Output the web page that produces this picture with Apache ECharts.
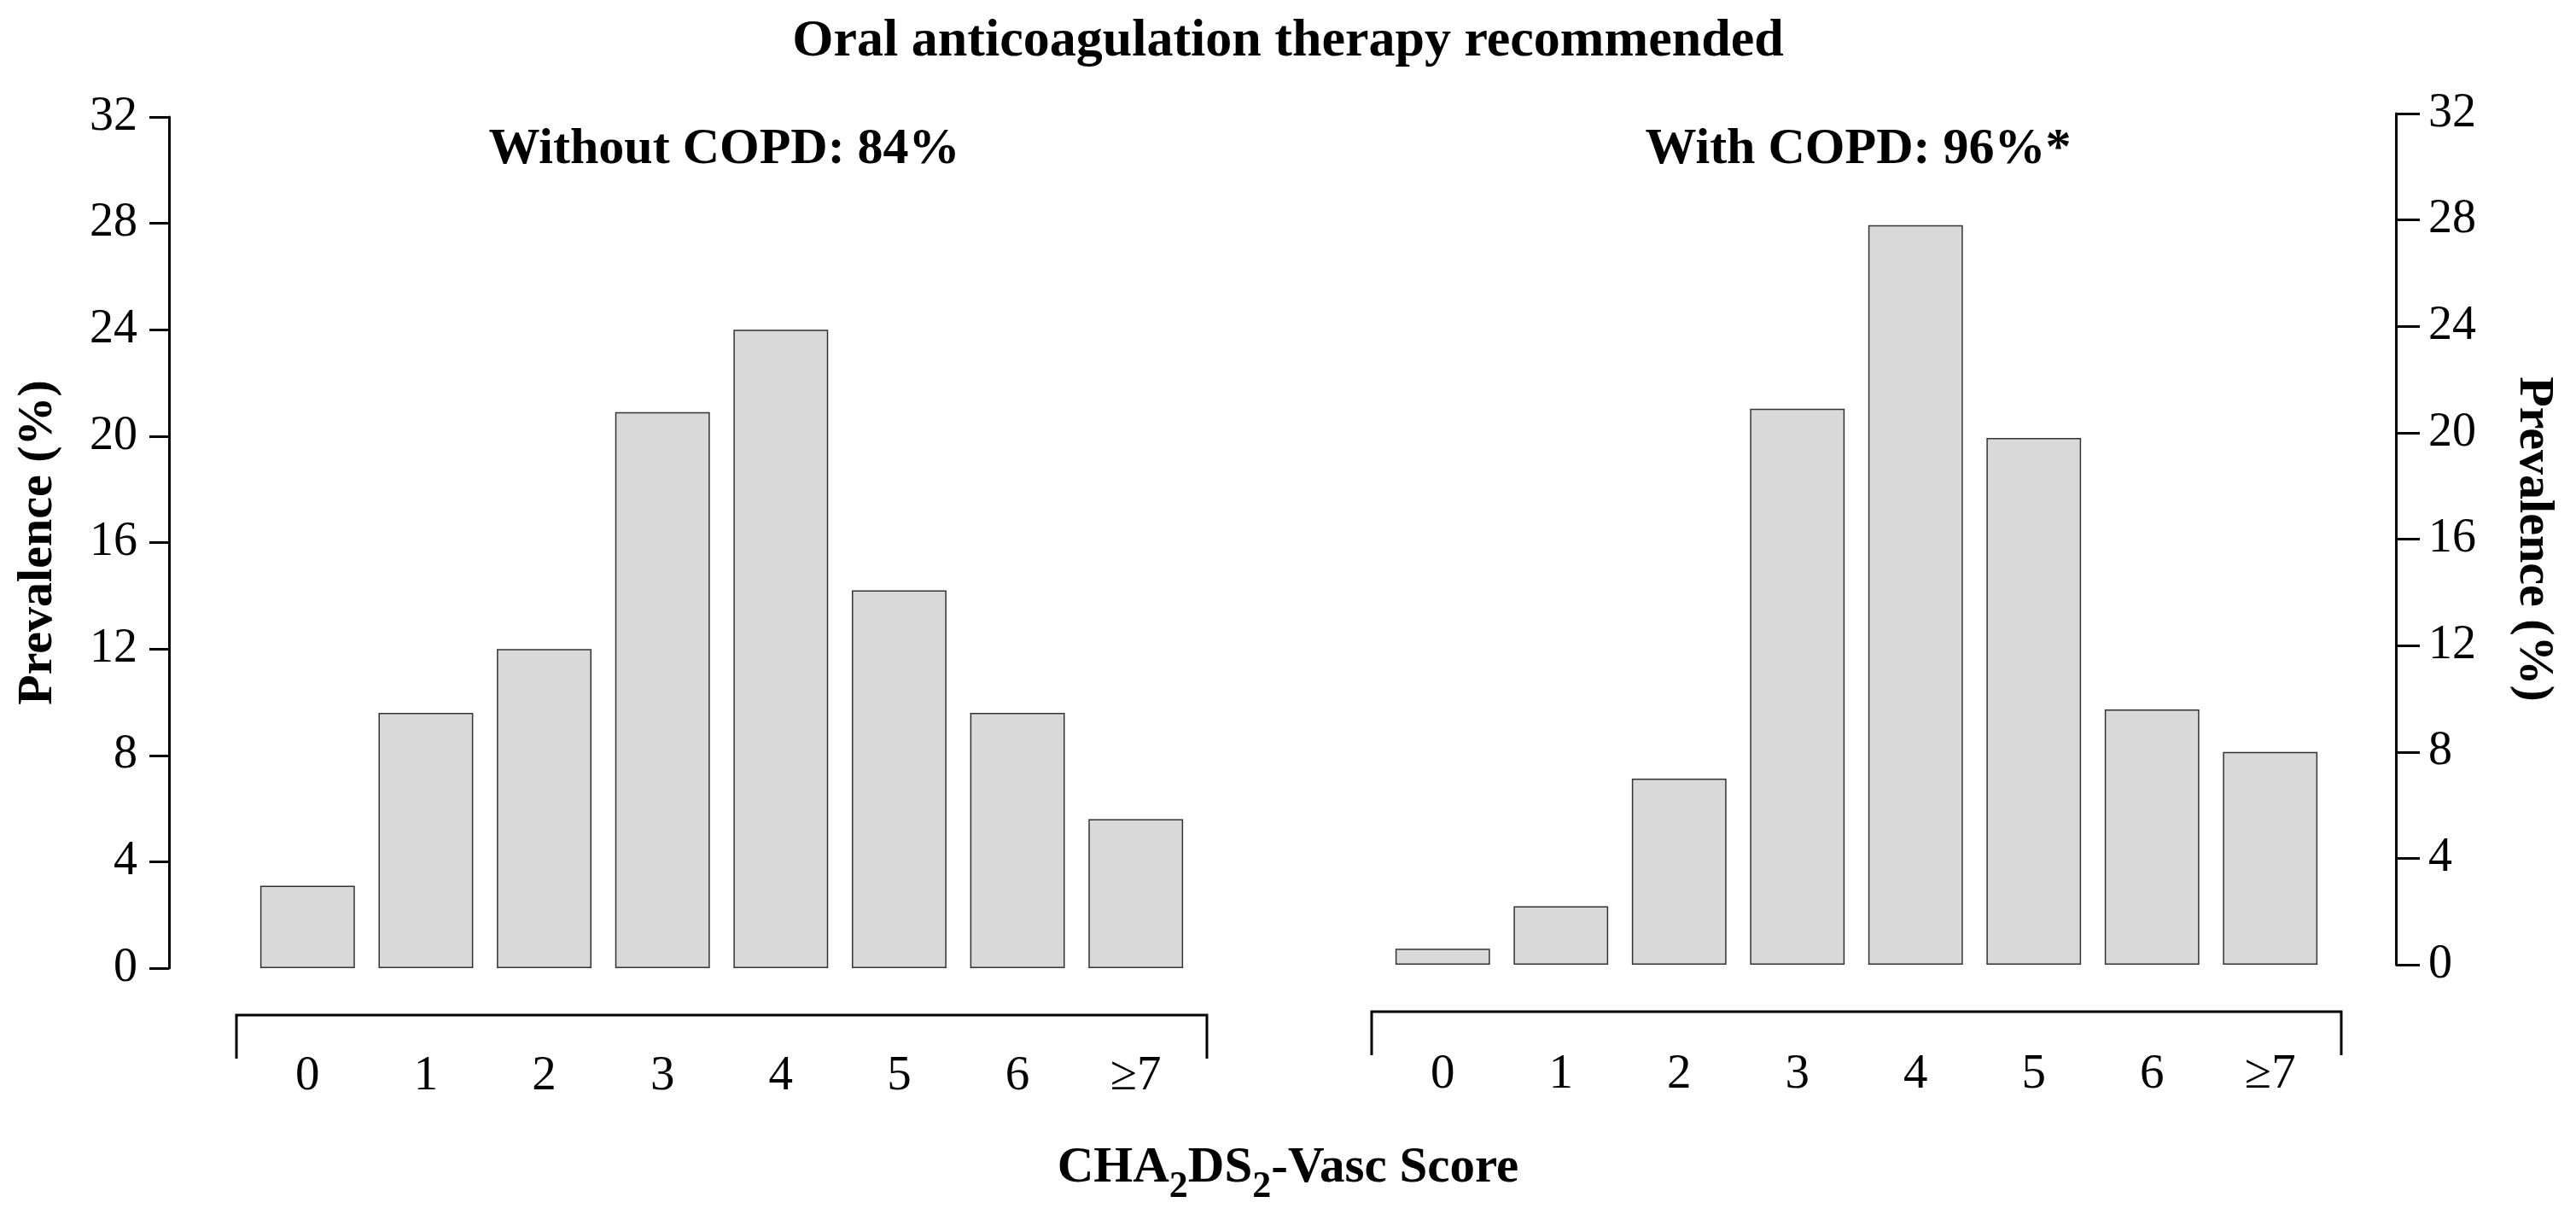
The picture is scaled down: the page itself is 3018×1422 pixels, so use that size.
<!DOCTYPE html>
<html>
<head>
<meta charset="utf-8">
<script src="https://cdn.jsdelivr.net/npm/echarts@6/dist/echarts.min.js"></script>
<style>
  html, body { margin: 0; padding: 0; background: #fff; }
  #chart { width: 3018px; height: 1422px; }
</style>
</head>
<body>
<div id="chart"></div>
<script>
// CHA2DS2-VASc score categories
const scores = ["0", "1", "2", "3", "4", "5", "6", "≥7"];
// prevalence (%) per score
const withoutCopd = [3.1, 9.6, 12.0, 20.9, 24.0, 14.2, 9.6, 5.6];
const withCopd = [0.6, 2.2, 7.0, 20.9, 27.8, 19.8, 9.6, 8.0];
const yMin = 0;
const yMax = 32;
const yStep = 4;

const mainTitle = "Oral anticoagulation therapy recommended";
const leftTitle = "Without COPD: 84%";
const rightTitle = "With COPD: 96%*";
const yName = "Prevalence (%)";

const FONT = "Liberation Serif";
const W = 3018, H = 1422;

// panel boxes (px)
const leftGrid = { left: 291, width: 1109, top: 137, height: 997 };
const rightGrid = { left: 1621, width: 1108, top: 133, height: 997 };

const chart = echarts.init(document.getElementById("chart"), null, { renderer: "canvas" });

const barStyle = {
  color: "#d9d9d9",
  borderColor: "#333",
  borderWidth: 1.5,
};

const yAxisCommon = {
  type: "value",
  min: yMin,
  max: yMax,
  interval: yStep,
  splitLine: { show: false },
  axisLine: { show: true, lineStyle: { color: "#000", width: 3 } },
  axisTick: { show: true, inside: false, lineStyle: { color: "#000", width: 3 } },
  axisLabel: { color: "#000", fontFamily: FONT, fontSize: 56 },
  nameLocation: "middle",
  nameTextStyle: { color: "#000", fontFamily: FONT, fontSize: 58, fontWeight: "bold" },
  name: yName,
};

const xAxisCommon = {
  type: "category",
  data: scores,
  axisLine: { show: false },
  axisTick: { show: false },
  axisLabel: { color: "#000", fontFamily: FONT, fontSize: 57 },
};

function bracket(g) {
  const x0 = g.left - 14;
  const x1 = g.left + g.width + 14;
  const y0 = g.top + g.height + 55;
  return {
    type: "polyline",
    shape: { points: [[x0, y0 + 51], [x0, y0], [x1, y0], [x1, y0 + 51]] },
    style: { stroke: "#000", lineWidth: 3, fill: null },
  };
}

const option = {
  backgroundColor: "#fff",
  animation: false,
  title: [
    {
      text: mainTitle, left: W / 2, top: 49, padding: 0,
      textAlign: "center", textVerticalAlign: "middle",
      textStyle: { fontFamily: FONT, fontSize: 62, fontWeight: "bold", color: "#000" },
    },
    {
      text: leftTitle, left: leftGrid.left + leftGrid.width / 2 + 3, top: 175, padding: 0,
      textAlign: "center", textVerticalAlign: "middle",
      textStyle: { fontFamily: FONT, fontSize: 60, fontWeight: "bold", color: "#000" },
    },
    {
      text: rightTitle, left: rightGrid.left + rightGrid.width / 2 + 2, top: 175, padding: 0,
      textAlign: "center", textVerticalAlign: "middle",
      textStyle: { fontFamily: FONT, fontSize: 60, fontWeight: "bold", color: "#000" },
    },
  ],
  grid: [
    { left: leftGrid.left, width: leftGrid.width, top: leftGrid.top, height: leftGrid.height, containLabel: false },
    { left: rightGrid.left, width: rightGrid.width, top: rightGrid.top, height: rightGrid.height, containLabel: false },
  ],
  xAxis: [
    Object.assign({}, xAxisCommon, { gridIndex: 0, axisLabel: Object.assign({}, xAxisCommon.axisLabel, { margin: 99 }) }),
    Object.assign({}, xAxisCommon, { gridIndex: 1, axisLabel: Object.assign({}, xAxisCommon.axisLabel, { margin: 101 }) }),
  ],
  yAxis: [
    Object.assign({}, yAxisCommon, {
      gridIndex: 0, position: "left", offset: 93, nameGap: 124, nameRotate: 90,
      axisTick: Object.assign({}, yAxisCommon.axisTick, { length: 23 }),
      axisLabel: Object.assign({}, yAxisCommon.axisLabel, { margin: 37 }),
    }),
    Object.assign({}, yAxisCommon, {
      gridIndex: 1, position: "right", offset: 78, nameGap: 132, nameRotate: -90,
      axisTick: Object.assign({}, yAxisCommon.axisTick, { length: 28 }),
      axisLabel: Object.assign({}, yAxisCommon.axisLabel, { margin: 38 }),
    }),
  ],
  series: [
    {
      type: "bar", xAxisIndex: 0, yAxisIndex: 0, data: withoutCopd,
      barCategoryGap: "20%", itemStyle: barStyle,
    },
    {
      type: "bar", xAxisIndex: 1, yAxisIndex: 1, data: withCopd,
      barCategoryGap: "20%", itemStyle: barStyle,
    },
  ],
  graphic: [
    bracket(leftGrid),
    bracket(rightGrid),
    {
      type: "text",
      x: W / 2, y: 1369,
      style: {
        text: "CHA{sub|2}DS{sub|2}-Vasc Score",
        align: "center",
        verticalAlign: "middle",
        fill: "#000",
        font: "bold 59px '" + FONT + "'",
        rich: {
          sub: { fontFamily: FONT, fontWeight: "bold", fontSize: 44, lineHeight: 88, verticalAlign: "bottom" },
        },
      },
    },
  ],
};

chart.setOption(option);
</script>
</body>
</html>
